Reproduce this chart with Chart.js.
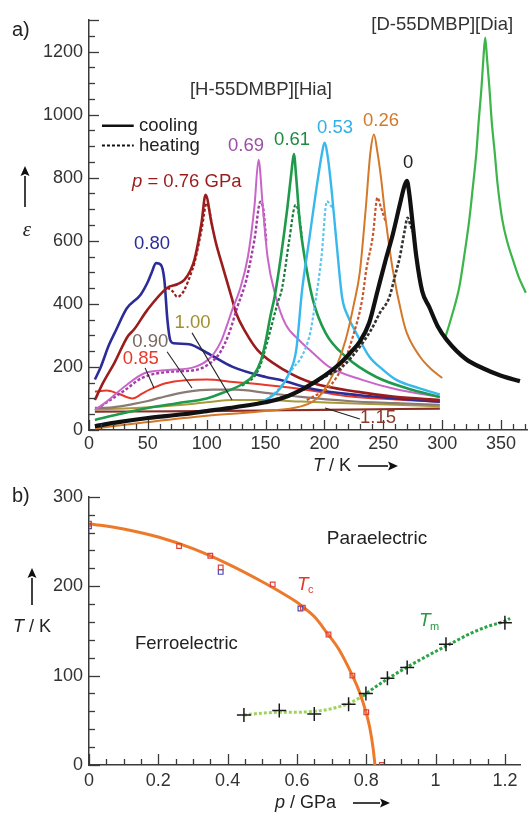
<!DOCTYPE html>
<html><head><meta charset="utf-8">
<script src="https://cdn.jsdelivr.net/npm/chart.js@4/dist/chart.umd.min.js"></script>
<style>
html,body{margin:0;padding:0;background:#fff;width:529px;height:814px;overflow:hidden}
canvas{position:absolute;left:0}
#ca{top:0}#cb{top:480px}
</style></head>
<body>
<canvas id="ca" width="529" height="480"></canvas>
<canvas id="cb" width="529" height="334"></canvas>
<script>
// ---------- Panel a) data: [T / K, epsilon] ----------
const p000_cool = [[5,12],[25,25],[50,38],[80,50],[100,60],[125,73],[150,88],[165,102],[183,133],[200,172],[213,210],[222,245],[230,280],[238,340],[245,440],[252,540],[258,620],[264,715],[268,775],[270,790],[272,750],[275,650],[278,550],[283,440],[289,390],[296,330],[304,285],[320,225],[335,195],[350,172],[366,155]];
const p000_heat = [[150,88],[180,125],[200,168],[215,200],[230,264],[240,320],[247,371],[255,420],[260,490],[264,549],[268,630],[270.5,673],[273,650],[276,620]];
const p026_cool = [[5,5],[50,25],[100,45],[150,60],[180,75],[190,90],[198,117],[210,200],[218,286],[225,400],[230,500],[235,700],[239,880],[242,937],[245,880],[248,800],[252,667],[258,508],[266,360],[270,307],[281,233],[290,195],[300,165]];
const p026_heat = [[185,95],[190,105],[204,137],[215,200],[224,295],[232,413],[235.5,508],[241,613],[245,737],[248,705],[252,660]];
const p053_cool = [[5,15],[50,38],[100,60],[130,75],[150,95],[162,130],[170,180],[176,254],[181,444],[187,603],[193,762],[198,880],[200,911],[203,860],[206,762],[210,603],[215,420],[220,360],[227,307],[238,233],[250,190],[261,159],[280,133],[298,113]];
const p053_heat = [[150,95],[160,125],[167,159],[174,200],[179,222],[184,260],[188,310],[191.6,390],[197.5,550],[202,725],[207.5,700]];
const p061_cool = [[5,32],[25,50],[50,70],[75,85],[100,100],[115,120],[130,145],[140,175],[146,220],[150,280],[154,360],[157.6,422],[163,550],[168.6,708],[172,820],[174,875],[176,800],[179,660],[183,550],[190,415],[201,307],[218,233],[244,168],[275,127],[298,105]];
const p061_heat = [[130,140],[140,168],[145,200],[150,260],[155,330],[160,400],[164,450],[170,600],[175.5,714],[178,690],[181,605]];
const p069_cool = [[5,63],[15,90],[30,137],[47,180],[67,190],[90,200],[104,233],[112,280],[117,330],[122,385],[128,444],[135,550],[140.5,708],[144,857],[147.6,708],[151.6,550],[158.7,422],[167,335],[179,283],[190,245],[204,200],[232,159],[260,130],[298,105]];
const p069_heat = [[10,75],[30,125],[45,165],[70,185],[90,190],[104,215],[112,250],[119,307],[126,390],[133.6,476],[140.5,603],[145.6,724],[148,700],[150.5,600]];
const p076_cool = [[5,95],[12,150],[21.6,213],[32.6,295],[38.5,320],[49.6,381],[66.6,451],[75,462],[81,476],[86,505],[89.6,540],[95.6,657],[99,746],[104,657],[108,590],[112.6,530],[121,422],[125,370],[133,310],[143,254],[166,190],[190,149],[230,120],[260,105],[298,95]];
const p076_heat = [[66.6,451],[71,440],[75,422],[78,428],[81,444],[86,490],[89.6,530],[95.6,635],[100,720],[102,700],[105,640]];
const p080_cool = [[5,160],[10,200],[17,270],[23,317],[32,385],[44,430],[50,470],[53,497],[57,529],[61,524],[64,476],[66.6,349],[69,285],[72,275],[85,272],[100,245],[122,200],[150,168],[162,159],[190,130],[230,110],[260,100],[298,90]];
const p085_cool = [[5,122],[15,125],[25,115],[37,100],[45,115],[51,127],[65,148],[82,158],[100,160],[123,152],[150,143],[180,130],[218,108],[260,97],[298,90]];
const p090_cool = [[5,70],[20,72],[37,82],[50,92],[60,102],[83,121],[105,128],[125,128],[150,118],[180,105],[220,92],[260,85],[298,80]];
const p100_cool = [[5,65],[40,70],[80,80],[100,88],[123,95],[150,95],[180,90],[220,85],[260,80],[298,75]];
const p115_cool = [[5,58],[100,60],[200,64],[298,68]];
const dia_curve = [[302,286],[308,360],[314.6,455],[319,560],[323,667],[326,770],[329,879],[331,980],[333.4,1089],[335,1180],[336.5,1244],[338,1180],[340,1089],[342,980],[344.6,879],[347,780],[351,667],[355,600],[360,540],[365,485],[371,435]];
const topXTicks = [0,50,100,150,200,250,300,350];
const topYTicks = [0,200,400,600,800,1000,1200];

// ---------- Panel b) data: [p / GPa, T / K] ----------
const tcRed  = [[0,270],[0.26,245],[0.35,234],[0.38,221],[0.53,202],[0.617,176],[0.691,146],[0.76,100],[0.80,59],[0.845,0]];
const tcBlue = [[0,267],[0.38,216],[0.61,175]];
const tcFit  = [[0,270],[0.1,264],[0.2,255],[0.3,242],[0.4,225],[0.5,205],[0.55,194],[0.6,182],[0.62,176],[0.65,166],[0.69,146],[0.72,130],[0.76,100],[0.78,82],[0.8,58],[0.81,42],[0.82,18],[0.825,0]];
const tmPts  = [[0.447,56],[0.549,61],[0.65,57],[0.749,68],[0.799,80],[0.861,97],[0.918,109],[1.03,135],[1.2,159]];
const tmFitLow  = [[0.447,56],[0.5,58],[0.55,59],[0.6,59],[0.65,60],[0.7,63],[0.75,69],[0.79,77]];
const tmFitHigh = [[0.79,77],[0.8,80],[0.86,96],[0.92,110],[1.0,127],[1.05,137],[1.1,147],[1.15,155],[1.2,161],[1.215,164]];
const botXTicks = [0,0.2,0.4,0.6,0.8,1.0,1.2];
const botXLabels = ['0','0.2','0.4','0.6','0.8','1','1.2'];
const botYTicks = [0,100,200,300];

// ---------- helpers ----------
const SANS = "'Liberation Sans', Arial, Helvetica, sans-serif";
const AX = '#3a3a3a';
Chart.defaults.font.family = SANS;
const xy = a => a.map(([x,y]) => ({x, y}));
function curve(data, color, width, dash) {
  return {data: xy(data), borderColor: color, backgroundColor: color, borderWidth: width,
    borderDash: dash || [], pointRadius: 0, cubicInterpolationMode: 'monotone', fill: false};
}
const DASH = [3, 2];

function drawTicks(chart, id, majors, step, majLen, minLen) {
  const s = chart.scales[id], ctx = chart.ctx, ca = chart.chartArea;
  ctx.save(); ctx.strokeStyle = AX; ctx.lineWidth = 1.3;
  const vals = [];
  for (let v = s.min; v <= s.max + 1e-9; v += step) vals.push(Math.round(v * 1000) / 1000);
  vals.forEach(v => {
    const isMaj = majors.some(m => Math.abs(m - v) < 1e-6);
    const len = isMaj ? majLen : minLen;
    const p = Math.round(s.getPixelForValue(v)) + 0.5;
    ctx.beginPath();
    if (s.isHorizontal()) { ctx.moveTo(p, ca.bottom); ctx.lineTo(p, ca.bottom - len); }
    else { ctx.moveTo(ca.left, p); ctx.lineTo(ca.left + len, p); }
    ctx.stroke();
  });
  ctx.restore();
}
function txt(ctx, s, x, y, color, font, align) {
  ctx.fillStyle = color; ctx.font = font; ctx.textAlign = align || 'left'; ctx.textBaseline = 'middle';
  ctx.fillText(s, x, y);
}
function arrowLine(ctx, x1, y1, x2, y2) {
  ctx.save(); ctx.strokeStyle = '#111'; ctx.fillStyle = '#111'; ctx.lineWidth = 1.6;
  const a = Math.atan2(y2 - y1, x2 - x1), h = 10, w = 4.5;
  const bx = x2 - h * Math.cos(a), by = y2 - h * Math.sin(a);
  ctx.beginPath(); ctx.moveTo(x1, y1); ctx.lineTo(bx, by); ctx.stroke();
  ctx.beginPath(); ctx.moveTo(x2, y2);
  ctx.lineTo(bx + w * Math.sin(a), by - w * Math.cos(a));
  ctx.lineTo(bx + 2 * Math.cos(a), by + 2 * Math.sin(a));
  ctx.lineTo(bx - w * Math.sin(a), by + w * Math.cos(a));
  ctx.closePath(); ctx.fill(); ctx.restore();
}

// ---------- panel a labels (data coordinates) ----------
const topLabels = [
  {t:'[H-55DMBP][Hia]', T:146, e:1079, c:'#333', a:'center'},
  {t:'[D-55DMBP][Dia]', T:300, e:1286, c:'#333', a:'center'},
  {t:'0.69', T:133.4, e:902, c:'#9c4fa6', a:'center'},
  {t:'0.61', T:172.5, e:921, c:'#1e8a3e', a:'center'},
  {t:'0.53', T:209, e:959, c:'#2fb0e8', a:'center'},
  {t:'0.26', T:248, e:981, c:'#d07a2c', a:'center'},
  {t:'0', T:271, e:848, c:'#222', a:'center'},
  {t:'0.80', T:53.5, e:590, c:'#2c2c98', a:'center'},
  {t:'1.00', T:88, e:340, c:'#a09030', a:'center'},
  {t:'0.90', T:52, e:279, c:'#7a6a62', a:'center'},
  {t:'0.85', T:44, e:225, c:'#e8382a', a:'center'},
  {t:'1.15', T:245.5, e:38, c:'#8b3a2a', a:'center'}
];
const topLeaders = [[47.6,197,55.2,133],[66.3,248,87.5,133],[87.5,308,121.5,95],[200.5,70,230,35]];

const topPlugin = {
  id: 'topDeco',
  afterDraw(chart) {
    const ctx = chart.ctx, X = chart.scales.x, Y = chart.scales.y;
    const px = v => X.getPixelForValue(v), py = v => Y.getPixelForValue(v);
    drawTicks(chart, 'x', topXTicks, 10, 10, 6);
    drawTicks(chart, 'y', topYTicks.concat([1300]), 50, 10, 6);
    ctx.save();
    const F = '18.5px ' + SANS;
    topLabels.forEach(l => txt(ctx, l.t, px(l.T), py(l.e), l.c, F, l.a));
    // p = 0.76 GPa
    const x0 = px(36.5), y0 = py(787);
    txt(ctx, 'p', x0, y0, '#9a1c1c', 'italic 18.5px ' + SANS, 'left');
    ctx.font = 'italic 18.5px ' + SANS;
    const w = ctx.measureText('p').width;
    txt(ctx, ' = 0.76 GPa', x0 + w, y0, '#9a1c1c', F, 'left');
    // legend
    ctx.strokeStyle = '#111'; ctx.lineWidth = 2.5;
    ctx.beginPath(); ctx.moveTo(px(11), py(965)); ctx.lineTo(px(38), py(965)); ctx.stroke();
    ctx.lineWidth = 2; ctx.setLineDash([3, 2]);
    ctx.beginPath(); ctx.moveTo(px(11), py(902)); ctx.lineTo(px(38), py(902)); ctx.stroke();
    ctx.setLineDash([]);
    txt(ctx, 'cooling', px(42.5), py(965), '#222', F, 'left');
    txt(ctx, 'heating', px(42.5), py(902), '#222', F, 'left');
    // leader lines
    ctx.strokeStyle = '#222'; ctx.lineWidth = 1.1;
    topLeaders.forEach(([a, b, c, d]) => { ctx.beginPath(); ctx.moveTo(px(a), py(b)); ctx.lineTo(px(c), py(d)); ctx.stroke(); });
    // outer text
    txt(ctx, 'a)', 12, 30, '#222', '20px ' + SANS, 'left');
    arrowLine(ctx, 25, 207, 25, 166);
    txt(ctx, 'ε', 27, 230, '#222', 'italic 21px "Liberation Serif", serif', 'center');
    txt(ctx, 'T', 313, 466, '#222', 'italic 18px ' + SANS, 'left');
    txt(ctx, ' / K', 324, 466, '#222', '18px ' + SANS, 'left');
    arrowLine(ctx, 358, 466, 398, 466);
    ctx.restore();
  }
};

const botPlugin = {
  id: 'botDeco',
  afterDraw(chart) {
    const ctx = chart.ctx, X = chart.scales.x, Y = chart.scales.y;
    const px = v => X.getPixelForValue(v), py = v => Y.getPixelForValue(v);
    drawTicks(chart, 'x', botXTicks, 0.05, 11, 6);
    drawTicks(chart, 'y', botYTicks, 20, 11, 6);
    ctx.save();
    const F = '18.5px ' + SANS;
    txt(ctx, 'Paraelectric', px(0.831), py(253), '#222', '19px ' + SANS, 'center');
    txt(ctx, 'Ferroelectric', px(0.281), py(135.6), '#222', F, 'center');
    txt(ctx, 'T', px(0.6), py(202), '#e03a2a', 'italic 19px ' + SANS, 'left');
    txt(ctx, 'c', px(0.6) + 11, py(202) + 6, '#e03a2a', '11px ' + SANS, 'left');
    txt(ctx, 'T', px(0.952), py(161), '#2a9a40', 'italic 19px ' + SANS, 'left');
    txt(ctx, 'm', px(0.952) + 11, py(161) + 6, '#2a9a40', '11px ' + SANS, 'left');
    txt(ctx, 'b)', 12, 16, '#222', '20px ' + SANS, 'left');
    arrowLine(ctx, 32, 125, 32, 88);
    txt(ctx, 'T', 13, 147, '#222', 'italic 18px ' + SANS, 'left');
    txt(ctx, ' / K', 24, 147, '#222', '18px ' + SANS, 'left');
    txt(ctx, 'p', 275, 323, '#222', 'italic 18px ' + SANS, 'left');
    txt(ctx, ' / GPa', 285, 323, '#222', '18px ' + SANS, 'left');
    arrowLine(ctx, 353, 323, 390, 323);
    ctx.restore();
  }
};

function axisOpts(min, max, ticksArr, isX, fitSize, pad, labels) {
  return {
    type: 'linear', min, max,
    afterBuildTicks: s => { s.ticks = ticksArr.map(v => ({value: v})); },
    afterFit: s => { if (isX) s.height = fitSize; else s.width = fitSize; },
    grid: {display: false, drawTicks: false},
    border: {display: true, color: AX, width: 1.5},
    ticks: {font: {size: 18, family: SANS}, color: '#333', padding: pad, maxRotation: 0, autoSkip: false,
      callback: labels ? ((v, i) => labels[i]) : (v => String(v))}
  };
}

const common = {
  responsive: false, animation: false, devicePixelRatio: 1,
  plugins: {legend: {display: false}, tooltip: {enabled: false}},
  elements: {line: {tension: 0}}
};

new Chart(document.getElementById('ca'), {
  type: 'line',
  data: {datasets: [
    curve(p000_cool, '#111111', 4.2),
    curve(p000_heat, '#333333', 2.6, DASH),
    curve(p026_cool, '#d4782a', 2),
    curve(p026_heat, '#c8552a', 2.2, DASH),
    curve(p053_cool, '#38b8ec', 2.4),
    curve(p053_heat, '#5cc6f0', 2.2, DASH),
    curve(p061_cool, '#1f9a4a', 2.6),
    curve(p061_heat, '#1a7a3a', 2.2, DASH),
    curve(p069_cool, '#c965c9', 2),
    curve(p069_heat, '#a23ca6', 2.4, DASH),
    curve(p076_cool, '#9a1c1c', 2.6),
    curve(p076_heat, '#9a1c1c', 2.2, DASH),
    curve(p080_cool, '#2c2c98', 2.6),
    curve(p085_cool, '#e8382a', 2),
    curve(p090_cool, '#8a7a74', 2.2),
    curve(p100_cool, '#a89a3a', 2),
    curve(p115_cool, '#8b2e26', 2.2),
    curve(dia_curve, '#3db54a', 2.2)
  ]},
  options: Object.assign({}, common, {
    layout: {padding: {left: 0, right: 2, top: 20, bottom: 0}},
    scales: {
      x: axisOpts(0, 372, topXTicks, true, 50, 3),
      y: axisOpts(0, 1300, topYTicks, false, 89, 6)
    }
  }),
  plugins: [topPlugin]
});

new Chart(document.getElementById('cb'), {
  type: 'line',
  data: {datasets: [
    {data: xy(tmPts), showLine: false, pointStyle: 'cross', pointRadius: 7, borderColor: '#1a1a1a', borderWidth: 1.5},
    {data: xy(tcRed), showLine: false, pointStyle: 'rect', pointRadius: 3.3, borderColor: '#e0403a', backgroundColor: 'rgba(0,0,0,0)', borderWidth: 1.2},
    {data: xy(tcBlue), showLine: false, pointStyle: 'rect', pointRadius: 3.3, borderColor: '#4a4ab8', backgroundColor: 'rgba(0,0,0,0)', borderWidth: 1.2},
    curve(tcFit, '#ec7a2a', 3),
    curve(tmFitLow, '#9fd45c', 3, DASH),
    curve(tmFitHigh, '#2aa444', 3, DASH)
  ]},
  options: Object.assign({}, common, {
    layout: {padding: {left: 0, right: 1, top: 15, bottom: 0}},
    scales: {
      x: axisOpts(0, 1.245, botXTicks, true, 49, 5, botXLabels),
      y: axisOpts(0, 300, botYTicks, false, 89, 6)
    }
  }),
  plugins: [botPlugin]
});
</script>
</body></html>
